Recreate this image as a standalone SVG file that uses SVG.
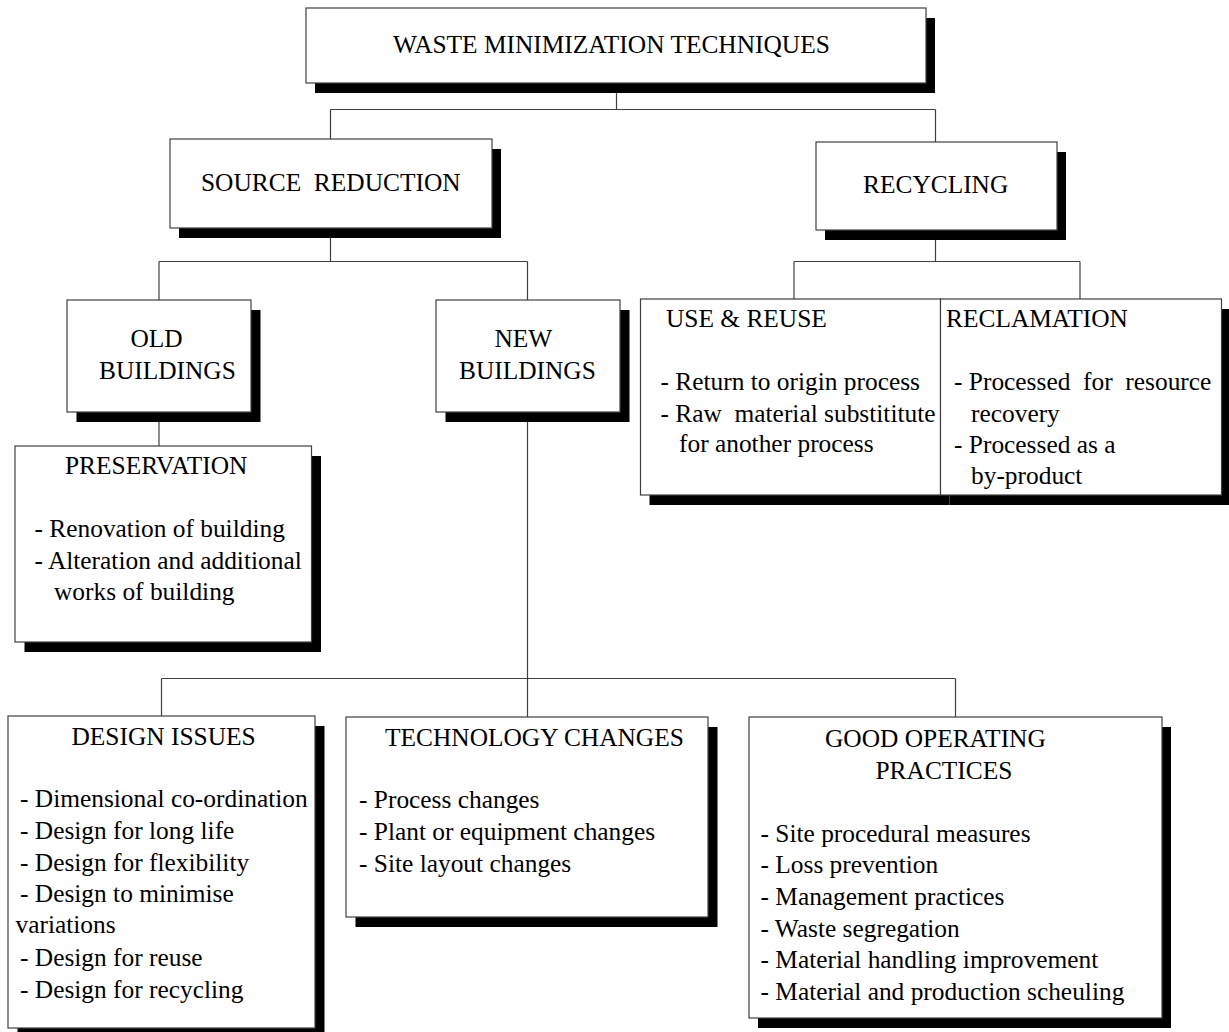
<svg xmlns="http://www.w3.org/2000/svg" width="1229" height="1032" viewBox="0 0 1229 1032">
<style>
  .bg{fill:#ffffff}
  .box{fill:#ffffff;stroke:#404040;stroke-width:1.2}
  .sh{fill:#000000}
  .t{font-family:"Liberation Serif","Times New Roman",serif;font-size:25.4px;fill:#000000;white-space:pre}
  .c{fill:none;stroke:#404040;stroke-width:1.2}
</style>
<rect class="bg" x="0" y="0" width="1229" height="1032"/>

<g id="connectors">
  <path class="c" d="M616.5,83 V109.5 M330.5,109.5 H935.5 M330.5,109.5 V139 M935.5,109.5 V142"/>
  <path class="c" d="M330.5,228 V261.5 M159,261.5 H527.5 M159,261.5 V300 M527.5,261.5 V300"/>
  <path class="c" d="M159,412 V446"/>
  <path class="c" d="M527.5,412 V678.5 M161.5,678.5 H955.5 M161.5,678.5 V716 M527.5,678.5 V717 M955.5,678.5 V717"/>
  <path class="c" d="M935.5,230 V261.5 M794,261.5 H1080 M794,261.5 V299 M1080,261.5 V299"/>
</g>

<g id="node-waste-minimization">
  <rect class="sh" x="315" y="18" width="620" height="75"/>
  <rect class="box" x="306" y="8" width="620" height="75"/>
  <text class="t" x="393" y="53">WASTE MINIMIZATION TECHNIQUES</text>
</g>

<g id="node-source-reduction">
  <rect class="sh" x="179" y="149" width="322" height="89"/>
  <rect class="box" x="170" y="139" width="322" height="89"/>
  <text class="t" x="201" y="191" xml:space="preserve">SOURCE  REDUCTION</text>
</g>

<g id="node-recycling">
  <rect class="sh" x="825" y="152" width="241" height="88"/>
  <rect class="box" x="816" y="142" width="241" height="88"/>
  <text class="t" x="863" y="193">RECYCLING</text>
</g>

<g id="node-old-buildings">
  <rect class="sh" x="76.5" y="310" width="184" height="112"/>
  <rect class="box" x="67" y="300" width="184" height="112"/>
  <text class="t" x="130.5" y="347">OLD</text>
  <text class="t" x="99" y="379">BUILDINGS</text>
</g>

<g id="node-new-buildings">
  <rect class="sh" x="445.5" y="310" width="184" height="112"/>
  <rect class="box" x="436" y="300" width="184" height="112"/>
  <text class="t" x="494.5" y="347">NEW</text>
  <text class="t" x="459" y="379">BUILDINGS</text>
</g>

<g id="node-preservation">
  <rect class="sh" x="24.5" y="456" width="296.5" height="196"/>
  <rect class="box" x="15" y="446" width="296.5" height="196"/>
  <text class="t" x="65" y="474">PRESERVATION</text>
  <text class="t" x="34.5" y="537">- Renovation of building</text>
  <text class="t" x="34.5" y="569">- Alteration and additional</text>
  <text class="t" x="54" y="600">works of building</text>
</g>

<g id="node-use-reuse">
  <rect class="sh" x="649.5" y="309" width="300" height="196"/>
  <rect class="box" x="640.5" y="299" width="300" height="196"/>
  <text class="t" x="666" y="327">USE &amp; REUSE</text>
  <text class="t" x="660.5" y="390">- Return to origin process</text>
  <text class="t" x="660.5" y="422" xml:space="preserve">- Raw  material substititute</text>
  <text class="t" x="679" y="452">for another process</text>
</g>

<g id="node-reclamation">
  <rect class="sh" x="949.5" y="309" width="280" height="196"/>
  <rect class="box" x="940.5" y="299" width="281" height="196"/>
  <text class="t" x="946" y="327">RECLAMATION</text>
  <text class="t" x="954" y="390" xml:space="preserve">- Processed  for  resource</text>
  <text class="t" x="971" y="422">recovery</text>
  <text class="t" x="954" y="453">- Processed as a</text>
  <text class="t" x="971" y="484">by-product</text>
</g>

<g id="node-design-issues">
  <rect class="sh" x="17.5" y="726" width="307" height="312"/>
  <rect class="box" x="8" y="716" width="307" height="312"/>
  <text class="t" x="71.5" y="745">DESIGN ISSUES</text>
  <text class="t" x="20" y="807">- Dimensional co-ordination</text>
  <text class="t" x="20" y="839">- Design for long life</text>
  <text class="t" x="20" y="871">- Design for flexibility</text>
  <text class="t" x="20" y="902">- Design to minimise</text>
  <text class="t" x="15.5" y="933">variations</text>
  <text class="t" x="20" y="966">- Design for reuse</text>
  <text class="t" x="20" y="998">- Design for recycling</text>
</g>

<g id="node-technology-changes">
  <rect class="sh" x="355.5" y="727" width="362" height="200"/>
  <rect class="box" x="346" y="717" width="362" height="200"/>
  <text class="t" x="385" y="746">TECHNOLOGY CHANGES</text>
  <text class="t" x="359" y="808">- Process changes</text>
  <text class="t" x="359" y="840">- Plant or equipment changes</text>
  <text class="t" x="359" y="872">- Site layout changes</text>
</g>

<g id="node-good-operating-practices">
  <rect class="sh" x="758" y="727" width="413" height="301"/>
  <rect class="box" x="749" y="717" width="413" height="301"/>
  <text class="t" x="825" y="747">GOOD OPERATING</text>
  <text class="t" x="875.5" y="779">PRACTICES</text>
  <text class="t" x="760.5" y="842">- Site procedural measures</text>
  <text class="t" x="760.5" y="873">- Loss prevention</text>
  <text class="t" x="760.5" y="905">- Management practices</text>
  <text class="t" x="760.5" y="937">- Waste segregation</text>
  <text class="t" x="760.5" y="968">- Material handling improvement</text>
  <text class="t" x="760.5" y="1000">- Material and production scheuling</text>
</g>
</svg>
